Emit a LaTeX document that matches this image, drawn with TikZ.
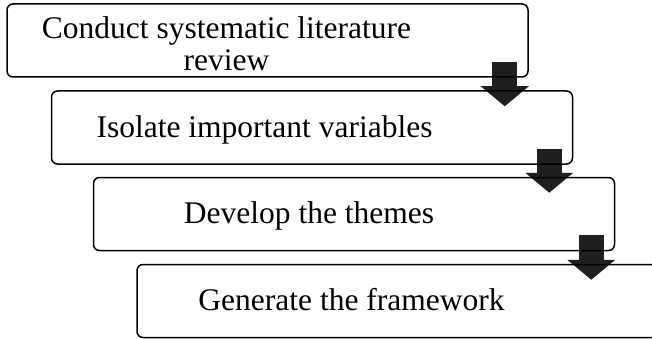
\documentclass[tikz,border=0pt]{standalone}
\usepackage{fontspec}
\setmainfont{Liberation Serif}
\usetikzlibrary{arrows.meta, calc, backgrounds}
\definecolor{arrowgray}{HTML}{1F1F1F}

\begin{document}
\begin{tikzpicture}[
    x=1pt, y=-1pt,
    box/.style={draw, line width=1.5pt, rounded corners=6pt, minimum width=521pt, minimum height=73pt, inner sep=0pt},
    txt/.style={font=\fontsize{31.5}{32}\selectfont, align=center, inner sep=0pt},
    blockarr/.style={draw=arrowgray, line width=25pt, -{Triangle[width=47pt, length=20pt]}}
]
\useasboundingbox (0,0) rectangle (652,339);
\clip (0,0) rectangle (652,339);
% steps
\node[box] (b1) at (267.5,40.5) {};
\node[box] (b2) at (312,127.5) {};
\node[box] (b3) at (354,214) {};
\node[box] (b4) at (397.5,301) {};
\node[txt] (t1) at (226.5,43.5) {Conduct systematic literature\\review};
\node[txt, anchor=base] (t2) at (264.5,138) {Isolate important variables};
\node[txt, anchor=base] (t3) at (309,223) {Develop the themes};
\node[txt, anchor=base] (t4) at (351.5,310) {Generate the framework};
% block arrows behind the box borders
\begin{scope}[on background layer]
\draw[blockarr] ($(b1.south east)+(-24,-16)$) coordinate (a1) -- ($(a1 |- b2.north)+(0,16)$);
\draw[blockarr] ($(b2.south east)+(-24,-16)$) coordinate (a2) -- ($(a2 |- b3.north)+(0,16)$);
\draw[blockarr] ($(b3.south east)+(-24,-16)$) coordinate (a3) -- ($(a3 |- b4.north)+(0,16)$);
\end{scope}
\end{tikzpicture}
\end{document}
